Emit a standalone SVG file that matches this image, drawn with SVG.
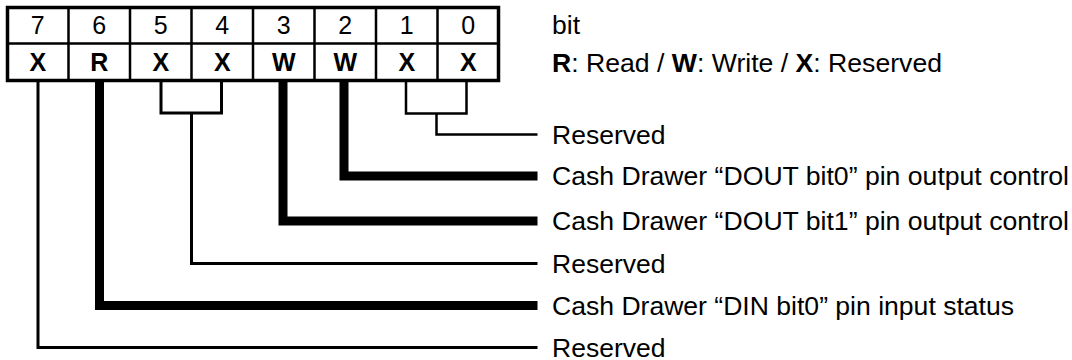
<svg xmlns="http://www.w3.org/2000/svg" width="1072" height="360" viewBox="0 0 1072 360">
<style>
text{font-family:"Liberation Sans",Arial,sans-serif;font-size:25px;fill:#000}
.c{text-anchor:middle}
.b{font-weight:bold}
.grid{fill:none;stroke:#000;stroke-width:2.5}
.frame{fill:none;stroke:#000;stroke-width:3.5}
.thin{fill:none;stroke:#000;stroke-width:3;stroke-linejoin:miter;stroke-linecap:butt}
.thin2{fill:none;stroke:#000;stroke-width:2.5;stroke-linejoin:miter;stroke-linecap:butt}
.thick{fill:none;stroke:#000;stroke-width:9;stroke-linejoin:miter;stroke-linecap:butt}
</style>
<rect width="1072" height="360" fill="#fff"/>
<g id="register">
<path class="grid" d="M68.5,7.5V80.5M130,7.5V80.5M191.5,7.5V80.5M253,7.5V80.5M314.5,7.5V80.5M376,7.5V80.5M437.5,7.5V80.5M7.5,43.5H498.5"/>
<rect class="frame" x="7.5" y="7.5" width="491" height="73"/>
<text class="c" x="37.75" y="33.5">7</text>
<text class="c" x="99.25" y="33.5">6</text>
<text class="c" x="160.75" y="33.5">5</text>
<text class="c" x="222.25" y="33.5">4</text>
<text class="c" x="283.75" y="33.5">3</text>
<text class="c" x="345.25" y="33.5">2</text>
<text class="c" x="406.75" y="33.5">1</text>
<text class="c" x="468.25" y="33.5">0</text>
<text class="c b" x="37.75" y="71">X</text>
<text class="c b" x="99.25" y="71">R</text>
<text class="c b" x="160.75" y="71">X</text>
<text class="c b" x="222.25" y="71">X</text>
<text class="c b" x="283.75" y="71">W</text>
<text class="c b" x="345.25" y="71">W</text>
<text class="c b" x="406.75" y="71">X</text>
<text class="c b" x="468.25" y="71">X</text>
</g>
<g id="legend">
<text x="552" y="34" textLength="28" lengthAdjust="spacingAndGlyphs">bit</text>
<text x="552" y="71.5" textLength="390" lengthAdjust="spacingAndGlyphs"><tspan class="b">R</tspan>: Read / <tspan class="b">W</tspan>: Write / <tspan class="b">X</tspan>: Reserved</text>
</g>
<g id="connectors">
<path class="thin" d="M38,81V347.5H537.5"/>
<path class="thick" d="M99.5,81V305.5H537.5"/>
<path class="thin" d="M161,81V113H221.5V81M191.5,113V263.5H537.5"/>
<path class="thick" d="M283,81V221H537.5"/>
<path class="thick" d="M344,81V176H537.5"/>
<path class="thin2" d="M406,81V113.5H466.5V81M436.5,113.5V134.5H537.5"/>
</g>
<g id="label-bit1-0"><text x="552" y="143.5" textLength="113.5" lengthAdjust="spacingAndGlyphs">Reserved</text></g>
<g id="label-bit2"><text x="552" y="185" textLength="517" lengthAdjust="spacingAndGlyphs">Cash Drawer “DOUT bit0” pin output control</text></g>
<g id="label-bit3"><text x="552" y="230" textLength="517" lengthAdjust="spacingAndGlyphs">Cash Drawer “DOUT bit1” pin output control</text></g>
<g id="label-bit5-4"><text x="552" y="272.5" textLength="113.5" lengthAdjust="spacingAndGlyphs">Reserved</text></g>
<g id="label-bit6"><text x="552" y="314.5" textLength="462" lengthAdjust="spacingAndGlyphs">Cash Drawer “DIN bit0” pin input status</text></g>
<g id="label-bit7"><text x="552" y="356.5" textLength="113.5" lengthAdjust="spacingAndGlyphs">Reserved</text></g>
</svg>
